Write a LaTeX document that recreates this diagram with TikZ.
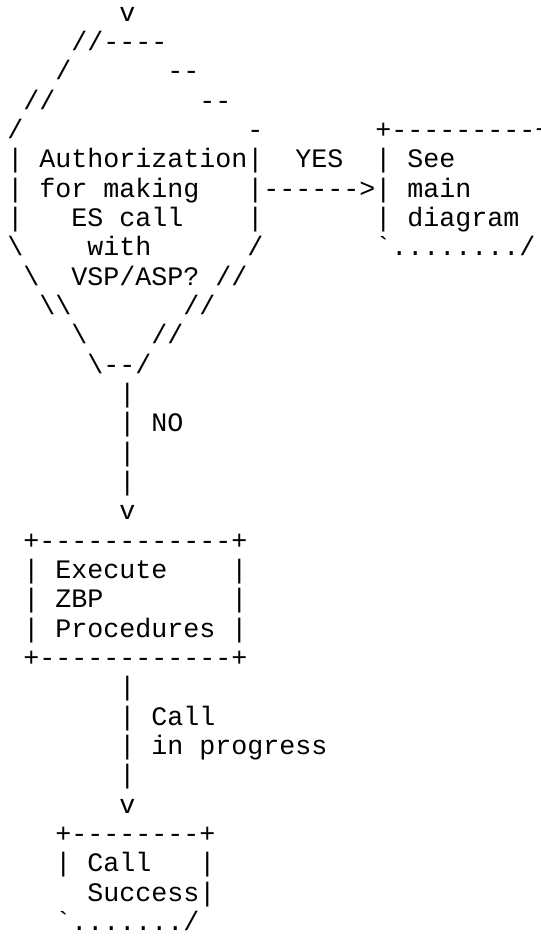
\documentclass[tikz,border=0pt]{standalone}
\usepackage{fontspec}
\setmonofont{Liberation Mono}
\usepackage{tikz}

\begin{document}
\begin{tikzpicture}[x=12pt,y=-22pt]
  \tikzset{txt/.style = {anchor=base west,inner sep=0pt,font=\ttfamily\fontsize{20}{22}\selectfont}}
  \useasboundingbox (-5.25pt,15.9pt) rectangle (400.5pt,-686.1pt);
	% decision
	\node[txt](in) at (7,0) {v};
	\node[txt](d1) at (4,1) {//----};
	\node[txt](d2a) at (3,2) {/};
	\node[txt](d2b) at (10,2) {--};
	\node[txt](d3a) at (1,3) {//};
	\node[txt](d3b) at (12,3) {--};
	\node[txt](d4a) at (0,4) {/};
	\node[txt](d4b) at (15,4) {-};
	\node[txt](d5) at (0,5) {| Authorization|};
	\node[txt](d6) at (0,6) {| for making};
	\node[txt](d7a) at (0,7) {|};
	\node[txt](d7b) at (4,7) {ES call};
	\node[txt](d7c) at (15,7) {|};
	\node[txt](d8a) at (0,8) {\textbackslash};
	\node[txt](d8b) at (5,8) {with};
	\node[txt](d8c) at (15,8) {/};
	\node[txt](d9a) at (1,9) {\textbackslash};
	\node[txt](d9b) at (4,9) {VSP/ASP? //};
	\node[txt](d10a) at (2,10) {\textbackslash\textbackslash};
	\node[txt](d10b) at (11,10) {//};
	\node[txt](d11a) at (4,11) {\textbackslash};
	\node[txt](d11b) at (9,11) {//};
	\node[txt](d12) at (5,12) {\textbackslash--/};

	% YES branch
	\node[txt](yes) at (18,5) {YES};
	\node[txt](m4) at (23,4) {+---------+};
	\node[txt](m5) at (23,5) {| See};
	\node[txt](m6) at (15,6) {|------>| main};
	\node[txt](m7) at (23,7) {| diagram};
	\node[txt](m8) at (23,8) {\textasciigrave......../};

	% NO branch
	\node[txt](n13) at (7,13) {|};
	\node[txt](no) at (7,14) {| NO};
	\node[txt](n15) at (7,15) {|};
	\node[txt](n16) at (7,16) {|};
	\node[txt](n17) at (7,17) {v};

	\node[txt](z18) at (1,18) {+------------+};
	\node[txt](z19a) at (1,19) {| Execute};
	\node[txt](z19b) at (14,19) {|};
	\node[txt](z20a) at (1,20) {| ZBP};
	\node[txt](z20b) at (14,20) {|};
	\node[txt](z21) at (1,21) {| Procedures |};
	\node[txt](z22) at (1,22) {+------------+};

	\node[txt](c23) at (7,23) {|};
	\node[txt](c24) at (7,24) {| Call};
	\node[txt](c25) at (7,25) {| in progress};
	\node[txt](c26) at (7,26) {|};
	\node[txt](c27) at (7,27) {v};

	\node[txt](s28) at (3,28) {+--------+};
	\node[txt](s29a) at (3,29) {| Call};
	\node[txt](s29b) at (12,29) {|};
	\node[txt](s30) at (5,30) {Success|};
	\node[txt](s31) at (3,31) {\textasciigrave......./};
\end{tikzpicture}
\end{document}
